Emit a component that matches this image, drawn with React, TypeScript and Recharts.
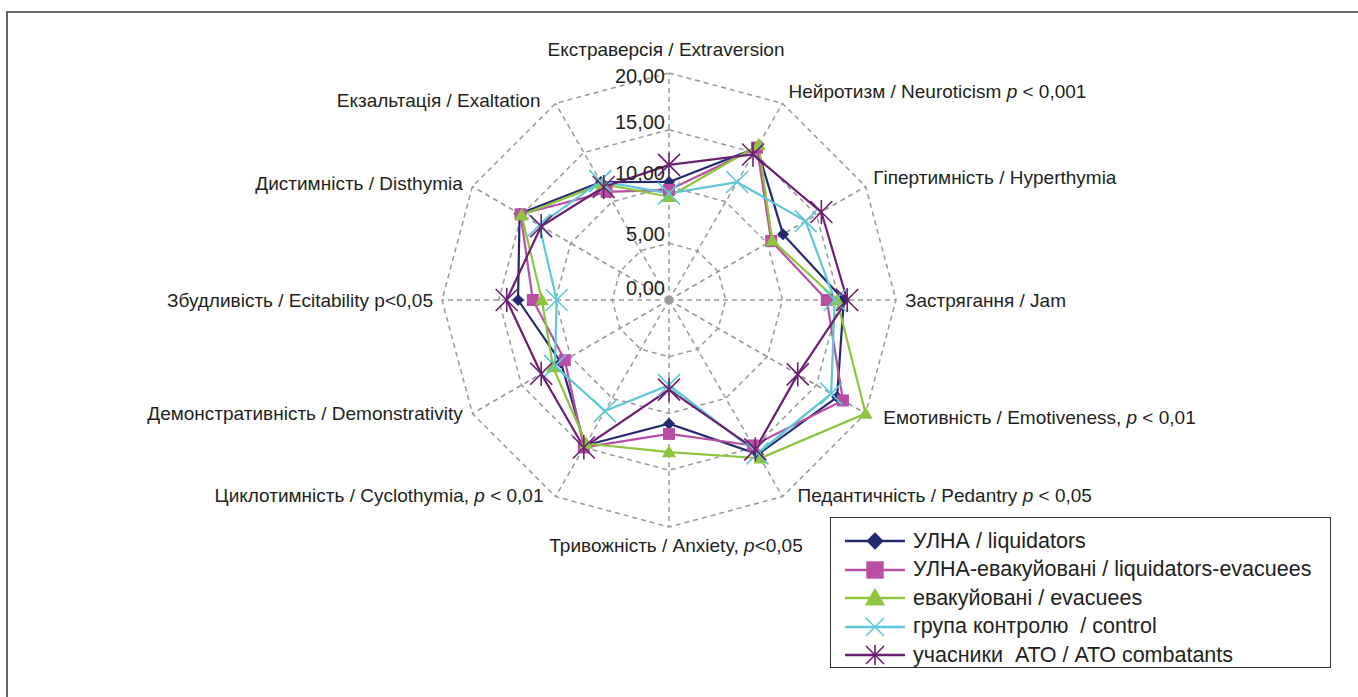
import React from 'react';
import { RadarChart, Radar, PolarGrid, PolarAngleAxis, PolarRadiusAxis, Legend } from 'recharts';

// axes, clockwise from the top; *p* marks an italic p
const AXES = [
  'Екстраверсія / Extraversion',
  'Нейротизм / Neuroticism *p* < 0,001',
  'Гіпертимність / Hyperthymia',
  'Застрягання / Jam',
  'Емотивність / Emotiveness, *p* < 0,01',
  'Педантичність / Pedantry *p* < 0,05',
  'Тривожність / Anxiety, *p*<0,05',
  'Циклотимність / Cyclothymia, *p* < 0,01',
  'Демонстративність / Demonstrativity',
  'Збудливість / Ecitability p<0,05',
  'Дистимність / Disthymia',
  'Екзальтація / Exaltation',
];

const LIQUIDATORS = [10.4, 15.5, 11.6, 15.4, 17.1, 15.7, 10.9, 14.8, 11.0, 13.3, 15.2, 12.0];
const LIQ_EVACUEES = [9.7, 15.5, 10.4, 13.9, 17.7, 14.8, 11.8, 15.0, 10.6, 12.0, 15.1, 11.0];
const EVACUEES = [9.1, 15.8, 10.5, 14.8, 20.0, 16.1, 13.4, 14.6, 11.8, 11.2, 15.0, 11.8];
const CONTROL = [9.4, 12.0, 13.9, 14.6, 16.5, 15.6, 7.5, 11.3, 11.6, 9.9, 13.2, 12.1];
const ATO = [11.9, 14.8, 15.5, 15.7, 13.1, 15.2, 7.9, 15.0, 13.0, 14.3, 13.0, 11.5];

const RADIUS_TICKS = [0, 5, 10, 15, 20];

const SERIES = [
  { key: 'liq', name: 'УЛНА / liquidators', color: '#232a72', shape: 'diamond', values: LIQUIDATORS },
  { key: 'liqEv', name: 'УЛНА-евакуйовані / liquidators-evacuees', color: '#b94fa5', shape: 'square', values: LIQ_EVACUEES },
  { key: 'ev', name: 'евакуйовані / evacuees', color: '#8dc53e', shape: 'triangle', values: EVACUEES },
  { key: 'ctrl', name: 'група контролю  / control', color: '#5ec8d8', shape: 'cross', values: CONTROL },
  { key: 'ato', name: 'учасники  АТО / АТО combatants', color: '#6b1f70', shape: 'star', values: ATO },
];

const data = AXES.map((axis, i) => {
  const row: any = { axis };
  SERIES.forEach(s => { row[s.key] = s.values[i]; });
  return row;
});

// label placement tweaks (dx, dy) per axis
const LABEL_NUDGE = [
  [-3, -7], [1, 3], [-1, 2], [-1, 7], [9, 5], [10, -3],
  [7, 15], [-7, -3], [-1, 1], [1, 7], [-1, 8], [-10, 12],
];
const RADIUS_NUDGE: Record<number, number> = { 0: -5, 5: -2, 10: -7, 15: -1, 20: 10 };

const FONT = '"Liberation Sans", Arial, sans-serif';
const TEXT = '#231f20';

function Marker({ shape, x, y, color, big }: any) {
  const k = big ? 1.45 : 1;
  if (shape === 'diamond') {
    const s = 6 * k;
    return <polygon points={`${x},${y - s} ${x + s},${y} ${x},${y + s} ${x - s},${y}`} fill={color} />;
  }
  if (shape === 'square') {
    const s = 6 * k;
    return <rect x={x - s} y={y - s} width={2 * s} height={2 * s} fill={color} />;
  }
  if (shape === 'triangle') {
    const s = 7 * k;
    return <polygon points={`${x},${y - s} ${x + s},${y + s * 0.75} ${x - s},${y + s * 0.75}`} fill={color} />;
  }
  const s = big ? 9 : 11;
  if (shape === 'cross') {
    return (
      <g stroke={color} strokeWidth={1.6}>
        <line x1={x - s} y1={y - s} x2={x + s} y2={y + s} />
        <line x1={x - s} y1={y + s} x2={x + s} y2={y - s} />
      </g>
    );
  }
  return (
    <g stroke={color} strokeWidth={1.6}>
      <line x1={x - s} y1={y - s} x2={x + s} y2={y + s} />
      <line x1={x - s} y1={y + s} x2={x + s} y2={y - s} />
      <line x1={x} y1={y - s * 1.1} x2={x} y2={y + s * 1.1} />
    </g>
  );
}

function AngleTick(props: any) {
  const { x, y, textAnchor, payload, index } = props;
  const [nx, ny] = LABEL_NUDGE[index] || [0, 0];
  const parts = String(payload.value).split('*');
  return (
    <text x={x + nx} y={y + ny} textAnchor={textAnchor} fontSize={19} fontFamily={FONT} fill={TEXT}>
      {parts.map((p, i) => (
        <tspan key={i} fontStyle={i % 2 ? 'italic' : 'normal'}>{p}</tspan>
      ))}
    </text>
  );
}

function RadiusTick(props: any) {
  const { x, y, payload } = props;
  const v = payload.value;
  return (
    <g>
      {v === 0 && <circle cx={x} cy={y} r={4} fill="#9a9a9a" />}
      <text x={x - 4} y={y + (RADIUS_NUDGE[v] ?? 0)} textAnchor="end" fontSize={20} fontFamily={FONT} fill={TEXT}>
        {v.toFixed(2).replace('.', ',')}
      </text>
    </g>
  );
}

function LegendBox({ payload }: any) {
  // keep the series order, not the legend's alphabetical sort
  const shown = SERIES.filter(s => (payload || []).some((e: any) => e.dataKey === s.key));
  return (
    <div style={{ border: '1.5px solid #333', background: '#fff', padding: '9px 0 0 0', height: 151, boxSizing: 'border-box' }}>
      {shown.map(s => (
        <div key={s.key} style={{ display: 'flex', alignItems: 'center', height: 28.5 }}>
          <svg width={78} height={26} style={{ flex: 'none' }}>
            <line x1={14} y1={13} x2={74} y2={13} stroke={s.color} strokeWidth={2.5} />
            <Marker shape={s.shape} x={44} y={13} color={s.color} big />
          </svg>
          <span style={{ fontFamily: FONT, fontSize: 21.5, color: TEXT, whiteSpace: 'pre', marginLeft: 4 }}>{s.name}</span>
        </div>
      ))}
    </div>
  );
}

export default function App() {
  return (
    <div style={{ position: 'absolute', left: 0, top: 0, width: 1358, height: 697, overflow: 'hidden', background: '#fff' }}>
      <div style={{ position: 'absolute', left: 6, top: 11, width: 1400, height: 800, border: '2px solid #666' }} />
      <div style={{ position: 'absolute', left: 0, top: 0 }}>
        <RadarChart width={1358} height={697} data={data} cx={669} cy={300} outerRadius={227}
          startAngle={90} endAngle={-270} margin={{ top: 0, right: 0, bottom: 0, left: 0 }}>
          <PolarGrid gridType="polygon" stroke="#999" strokeWidth={1.5} strokeDasharray="5 4" />
          <PolarAngleAxis dataKey="axis" tick={<AngleTick />} tickLine={false} tickSize={10} axisLine={false} />
          <PolarRadiusAxis angle={90} domain={[0, 20]} ticks={RADIUS_TICKS as any} tickCount={5}
            axisLine={false} tick={<RadiusTick />} />
          {SERIES.map(s => (
            <Radar key={s.key} name={s.name} dataKey={s.key} stroke={s.color} strokeWidth={2.2}
              fill="none" fillOpacity={0} isAnimationActive={false}
              dot={(p: any) => <Marker key={`${s.key}-${p.index}`} shape={s.shape} x={p.cx} y={p.cy} color={s.color} />} />
          ))}
          <Legend content={<LegendBox />} wrapperStyle={{ left: 830, top: 517, width: 501, height: 151, bottom: 'auto' }} />
        </RadarChart>
      </div>
    </div>
  );
}
